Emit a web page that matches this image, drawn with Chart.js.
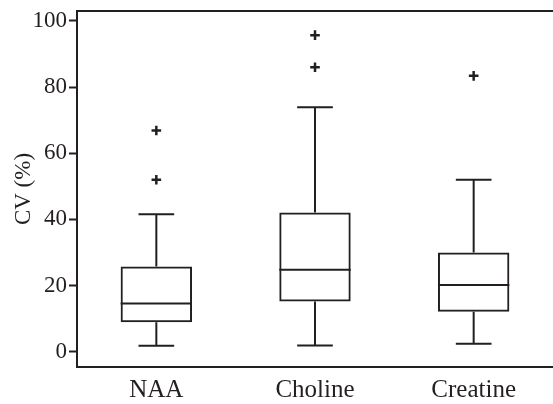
<!DOCTYPE html>
<html>
<head>
<meta charset="utf-8">
<script src="https://cdn.jsdelivr.net/npm/chart.js@4/dist/chart.umd.min.js"></script>
<style>
  html, body { margin: 0; padding: 0; background: #fff; overflow: hidden; }
  #wrap { position: relative; width: 553px; height: 404px; overflow: hidden; }
</style>
</head>
<body>
<div id="wrap"><canvas id="cv-chart"></canvas></div>
<script>
// ---- Box plot data (CV %) ----
const categories = ['NAA', 'Choline', 'Creatine'];
const whiskerLow = [1.8, 1.9, 2.4];
const q1 = [8.9, 15.2, 12.1];
const median = [14.6, 24.8, 20.2];
const q3 = [25.8, 42.1, 30.0];
const whiskerHigh = [41.6, 73.9, 52.0];
const outliers = [
  { x: 'NAA', y: 52.0 },
  { x: 'NAA', y: 66.9 },
  { x: 'Choline', y: 86.0 },
  { x: 'Choline', y: 95.7 },
  { x: 'Creatine', y: 83.4 }
];
const yTicks = [0, 20, 40, 60, 80, 100];

const INK = '#231f20';
const SERIF = "'Liberation Serif', 'Times New Roman', serif";

// whiskers, caps, medians and the top frame line
const boxExtras = {
  id: 'boxExtras',
  afterDatasetsDraw(chart) {
    const { ctx, chartArea, scales: { x, y } } = chart;
    const bars = chart.getDatasetMeta(0).data;
    ctx.save();
    ctx.strokeStyle = INK;
    ctx.lineWidth = 2;
    ctx.lineCap = 'butt';
    categories.forEach((c, i) => {
      const cx = x.getPixelForValue(i);
      const half = bars[i].width / 2;
      const cap = half / 2;
      ctx.beginPath();
      // upper whisker
      ctx.moveTo(cx, y.getPixelForValue(q3[i]));
      ctx.lineTo(cx, y.getPixelForValue(whiskerHigh[i]));
      ctx.moveTo(cx - cap, y.getPixelForValue(whiskerHigh[i]));
      ctx.lineTo(cx + cap, y.getPixelForValue(whiskerHigh[i]));
      // lower whisker
      ctx.moveTo(cx, y.getPixelForValue(q1[i]));
      ctx.lineTo(cx, y.getPixelForValue(whiskerLow[i]));
      ctx.moveTo(cx - cap, y.getPixelForValue(whiskerLow[i]));
      ctx.lineTo(cx + cap, y.getPixelForValue(whiskerLow[i]));
      // median
      ctx.moveTo(cx - half, y.getPixelForValue(median[i]));
      ctx.lineTo(cx + half, y.getPixelForValue(median[i]));
      ctx.stroke();
    });
    ctx.beginPath();
    ctx.moveTo(chartArea.left - 1, chartArea.top);
    ctx.lineTo(chartArea.right, chartArea.top);
    ctx.stroke();
    ctx.restore();
  }
};

new Chart(document.getElementById('cv-chart'), {
  type: 'bar',
  data: {
    labels: categories,
    datasets: [{
      label: 'IQR',
      data: categories.map((c, i) => [q1[i], q3[i]]),
      backgroundColor: 'rgba(0,0,0,0)',
      borderColor: INK,
      borderWidth: 2,
      borderSkipped: false,
      categoryPercentage: 1,
      barPercentage: 0.45
    }, {
      type: 'scatter',
      label: 'Outliers',
      data: outliers,
      pointStyle: 'cross',
      pointRadius: 4.8,
      borderColor: INK,
      borderWidth: 2.5
    }]
  },
  plugins: [boxExtras],
  options: {
    responsive: true,
    maintainAspectRatio: false,
    animation: false,
    layout: { autoPadding: false, padding: { top: 11, right: 0, bottom: 0, left: 0 } },
    plugins: { legend: { display: false }, tooltip: { enabled: false } },
    scales: {
      x: {
        type: 'category',
        grid: { display: false },
        border: { display: true, color: INK, width: 2 },
        ticks: { color: INK, font: { family: SERIF, size: 25 }, padding: 0 },
        afterFit: (axis) => { axis.height = 37; axis.paddingLeft = 0; axis.paddingRight = 0; }
      },
      y: {
        min: -4.6,
        max: 103,
        afterBuildTicks: (axis) => { axis.ticks = yTicks.map(v => ({ value: v })); },
        afterFit: (axis) => { axis.width = 77; axis.paddingTop = 0; axis.paddingBottom = 0; },
        grid: { drawOnChartArea: false, drawTicks: true, tickLength: 8, tickWidth: 2, tickColor: INK },
        border: { display: true, color: INK, width: 2 },
        ticks: { color: INK, font: { family: SERIF, size: 23 }, padding: 2 },
        title: { display: true, text: 'CV (%)', color: INK, font: { family: SERIF, size: 23 }, padding: { top: 10, bottom: 0 } }
      }
    }
  }
});
</script>
</body>
</html>
